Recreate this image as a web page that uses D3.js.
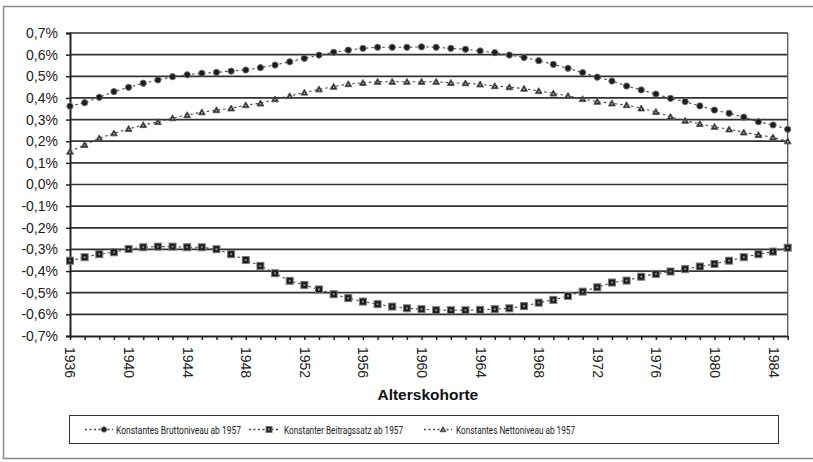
<!DOCTYPE html>
<html lang="de">
<head>
<meta charset="utf-8">
<title>Alterskohorte</title>
<script src="https://cdnjs.cloudflare.com/ajax/libs/d3/7.8.5/d3.min.js"></script>
<style>
  body { margin: 0; background: #fff; }
  svg { display: block; font-family: "Liberation Sans", Arial, sans-serif; }
  .legend text { font-family: Roboto, "Liberation Sans", sans-serif; }
</style>
</head>
<body>
<div id="chart"></div>
<script>
// Jahrgaenge (Alterskohorten)
var years = [1936, 1937, 1938, 1939, 1940, 1941, 1942, 1943, 1944, 1945,
             1946, 1947, 1948, 1949, 1950, 1951, 1952, 1953, 1954, 1955,
             1956, 1957, 1958, 1959, 1960, 1961, 1962, 1963, 1964, 1965,
             1966, 1967, 1968, 1969, 1970, 1971, 1972, 1973, 1974, 1975,
             1976, 1977, 1978, 1979, 1980, 1981, 1982, 1983, 1984, 1985];

var yearLabels = [1936, 1940, 1944, 1948, 1952, 1956, 1960, 1964, 1968, 1972, 1976, 1980, 1984];
var yTicks = [-0.7, -0.6, -0.5, -0.4, -0.3, -0.2, -0.1, 0, 0.1, 0.2, 0.3, 0.4, 0.5, 0.6, 0.7];

// Werte in Prozent
var brutto = [0.362, 0.378, 0.403, 0.429, 0.449, 0.468, 0.483, 0.498, 0.507, 0.514,
              0.518, 0.524, 0.529, 0.540, 0.552, 0.567, 0.583, 0.598, 0.611, 0.621,
              0.629, 0.634, 0.634, 0.634, 0.636, 0.634, 0.629, 0.625, 0.617, 0.609,
              0.598, 0.587, 0.572, 0.555, 0.537, 0.517, 0.496, 0.478, 0.455, 0.437,
              0.418, 0.398, 0.383, 0.363, 0.344, 0.329, 0.311, 0.290, 0.275, 0.255];

var beitrag = [-0.352, -0.336, -0.322, -0.313, -0.298, -0.290, -0.287, -0.287, -0.290, -0.290,
               -0.299, -0.322, -0.349, -0.376, -0.410, -0.445, -0.464, -0.485, -0.507, -0.525,
               -0.541, -0.553, -0.564, -0.572, -0.576, -0.581, -0.581, -0.581, -0.579, -0.576,
               -0.572, -0.562, -0.546, -0.533, -0.515, -0.495, -0.475, -0.453, -0.444, -0.426,
               -0.413, -0.402, -0.391, -0.379, -0.367, -0.352, -0.336, -0.322, -0.310, -0.292];

var netto = [0.152, 0.183, 0.214, 0.237, 0.257, 0.275, 0.289, 0.307, 0.321, 0.334,
             0.344, 0.352, 0.367, 0.375, 0.394, 0.409, 0.425, 0.440, 0.452, 0.464,
             0.470, 0.475, 0.475, 0.475, 0.475, 0.475, 0.470, 0.468, 0.463, 0.455,
             0.450, 0.443, 0.432, 0.421, 0.410, 0.395, 0.383, 0.375, 0.367, 0.352,
             0.336, 0.313, 0.295, 0.280, 0.267, 0.255, 0.241, 0.229, 0.218, 0.200];

var seriesNames = ["Konstantes Bruttoniveau ab 1957", "Konstanter Beitragssatz ab 1957", "Konstantes Nettoniveau ab 1957"];

var width = 813, height = 462;
var plotLeft = 70, plotRight = 787.7, plotTop = 33, plotBottom = 336;

var svg = d3.select("#chart").append("svg")
    .attr("width", width)
    .attr("height", height);

// aeusserer Rahmen
svg.append("rect")
    .attr("x", 3.5).attr("y", 6.5)
    .attr("width", 820).attr("height", 452)
    .attr("fill", "none")
    .attr("stroke", "#8a8a8a")
    .attr("stroke-width", 1.5);

var x = d3.scalePoint().domain(years).range([plotLeft, plotRight]);
var y = d3.scaleLinear().domain([-0.7, 0.7]).range([plotBottom, plotTop]);

// Gitternetz
svg.append("g").selectAll("line")
    .data(yTicks.filter(function(d) { return d > -0.7; }))
    .enter().append("line")
    .attr("x1", plotLeft).attr("x2", plotRight)
    .attr("y1", function(d) { return y(d); })
    .attr("y2", function(d) { return y(d); })
    .attr("stroke", "#333")
    .attr("stroke-width", 1.7);

// rechte Begrenzung
svg.append("line")
    .attr("x1", plotRight).attr("x2", plotRight)
    .attr("y1", plotTop).attr("y2", plotBottom)
    .attr("stroke", "#555")
    .attr("stroke-width", 1.3);

// y-Achse
var yAxis = svg.append("g")
    .attr("transform", "translate(" + plotLeft + ",0)")
    .call(d3.axisLeft(y).tickValues(yTicks).tickSize(4).tickPadding(8)
        .tickFormat(function(d) { return d3.format(".1f")(d).replace(".", ",").replace("−", "-") + "%"; }));
yAxis.select(".domain").attr("stroke", "#222").attr("stroke-width", 2);
yAxis.selectAll(".tick line").attr("stroke", "#222").attr("stroke-width", 1.5);
yAxis.selectAll("text").attr("font-size", 14).attr("fill", "#222")
    .attr("font-family", "'Liberation Sans', Arial, sans-serif");

// x-Achse
var xAxis = svg.append("g")
    .attr("transform", "translate(0," + plotBottom + ")")
    .call(d3.axisBottom(x).tickSize(4).tickSizeOuter(0)
        .tickFormat(function(d) { return yearLabels.indexOf(d) >= 0 ? d : ""; }));
xAxis.select(".domain").attr("stroke", "#222").attr("stroke-width", 2);
xAxis.selectAll(".tick line").attr("stroke", "#222").attr("stroke-width", 1.5);
xAxis.selectAll("text")
    .attr("font-size", 14).attr("fill", "#222")
    .attr("font-family", "'Liberation Sans', Arial, sans-serif")
    .attr("text-anchor", "start")
    .attr("transform", "rotate(90)")
    .attr("x", 11).attr("y", 0).attr("dy", "0.36em");

svg.append("text")
    .attr("x", (plotLeft + plotRight) / 2 - 1)
    .attr("y", 400)
    .attr("text-anchor", "middle")
    .attr("font-size", 15.5)
    .attr("font-weight", "bold")
    .attr("fill", "#111")
    .text("Alterskohorte");

// Markierungen
function drawMarker(g, type, cx, cy, k) {
    k = k || 1;
    if (type === 0) {
        g.append("circle").attr("cx", cx).attr("cy", cy).attr("r", 3.1 * k)
            .attr("fill", "#1c1c1c").attr("stroke", "#6a6a6a").attr("stroke-width", 1);
    } else if (type === 1) {
        var h = 3.5 * k;
        g.append("rect").attr("x", cx - h).attr("y", cy - h).attr("width", 2 * h).attr("height", 2 * h)
            .attr("fill", "#1c1c1c").attr("stroke", "#7a7a7a").attr("stroke-width", 1);
        g.append("rect").attr("x", cx - 1).attr("y", cy - 1).attr("width", 2).attr("height", 2)
            .attr("fill", "#888");
    } else {
        g.append("path")
            .attr("d", "M" + cx + "," + (cy - 3.3 * k) + "L" + (cx + 3.4 * k) + "," + (cy + 2.6 * k) + "L" + (cx - 3.4 * k) + "," + (cy + 2.6 * k) + "Z")
            .attr("fill", "#2a2a2a").attr("stroke", "#555").attr("stroke-width", 1);
        g.append("rect").attr("x", cx - 0.8).attr("y", cy - 0.2).attr("width", 1.6).attr("height", 1.6)
            .attr("fill", "#aaa");
    }
}

var line = d3.line()
    .x(function(d, i) { return x(years[i]); })
    .y(function(d) { return y(d); });

[brutto, beitrag, netto].forEach(function(values, s) {
    var g = svg.append("g");
    g.append("path")
        .datum(values)
        .attr("d", line)
        .attr("fill", "none")
        .attr("stroke", "#444")
        .attr("stroke-width", 1.1)
        .attr("stroke-dasharray", "2.5,3");
    values.forEach(function(v, i) {
        drawMarker(g, s, x(years[i]), y(v));
    });
});

// Legende
var legend = svg.append("g").attr("class", "legend");
legend.append("rect")
    .attr("x", 69.5).attr("y", 415.5)
    .attr("width", 709).attr("height", 28)
    .attr("fill", "none")
    .attr("stroke", "#333")
    .attr("stroke-width", 1);

var legendLineX = [85, 249, 424];
var legendMarkX = [104, 269, 443];
var legendTextX = [116, 284, 456];
var legendTextWidth = [125, 119, 119];
seriesNames.forEach(function(name, s) {
    var ly = 429.5;
    legend.append("line")
        .attr("x1", legendLineX[s]).attr("x2", legendMarkX[s] + 9)
        .attr("y1", ly).attr("y2", ly)
        .attr("stroke", "#444").attr("stroke-width", 1.5)
        .attr("stroke-dasharray", "2,2.5");
    drawMarker(legend, s, legendMarkX[s], ly, 0.85);
    legend.append("text")
        .attr("x", legendTextX[s])
        .attr("y", ly + 4)
        .attr("font-size", 11)
        .attr("fill", "#1a1a1a")
        .attr("textLength", legendTextWidth[s])
        .attr("lengthAdjust", "spacingAndGlyphs")
        .text(name);
});
</script>
</body>
</html>
